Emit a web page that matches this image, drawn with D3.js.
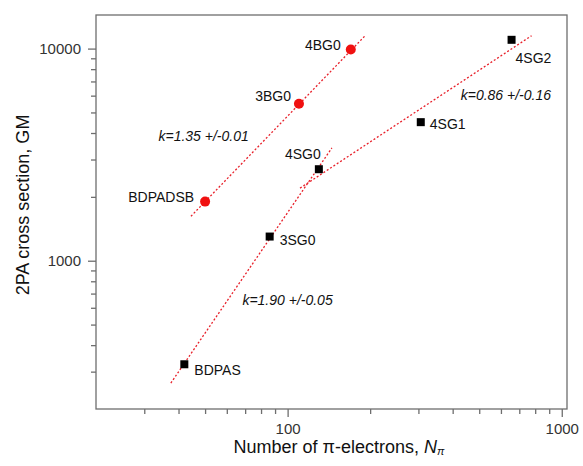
<!DOCTYPE html>
<html><head><meta charset="utf-8">
<script src="https://cdn.jsdelivr.net/npm/d3@7"></script>
<style>
body{margin:0;background:#fff;}
svg{display:block;font-family:"Liberation Sans",Arial,sans-serif;}
</style></head>
<body><svg id="c" width="583" height="466"></svg>
<script>
// Data
const bgNames = ["BDPADSB","3BG0","4BG0"];
const bgN     = [50, 110, 170];
const bgGM    = [1900, 5500, 9900];

const sgNames = ["BDPAS","3SG0","4SG0","4SG1","4SG2"];
const sgN     = [42, 86, 130, 306, 656];
const sgGM    = [325, 1300, 2700, 4500, 11000];

// fitted lines (endpoints)
const fitBG  = [[44.4, 1620], [193, 11600]];
const fitSG  = [[37.5, 265], [145, 3400]];
const fitSG2 = [[111, 2200], [776, 11500]];

const kTexts = ["k=1.35 +/-0.01", "k=0.86 +/-0.16", "k=1.90 +/-0.05"];
const kPos   = [[33.8, 3880], [428, 6040], [68.4, 653]];

const xTicksMajor = [100, 1000];
const xTicksMinor = [30,40,50,60,70,80,90,200,300,400,500,600,700,800,900];
const yTicksMajor = [1000, 10000];
const yTicksMinor = [300,400,500,600,700,800,900,2000,3000,4000,5000,6000,7000,8000,9000];

// Layout / style
const L = 96, R = 567, T = 15, B = 409;
const labelStyle = {
  "4BG0":   {dx:-10, dy:-5, a:"end"},
  "3BG0":   {dx:-8,  dy:-8, a:"end"},
  "BDPADSB":{dx:-11, dy:-5, a:"end"},
  "4SG0":   {dx:-16, dy:-15, a:"middle"},
  "3SG0":   {dx:10,  dy:3, a:"start"},
  "BDPAS":  {dx:10,  dy:6, a:"start"},
  "4SG1":   {dx:9,   dy:2, a:"start"},
  "4SG2":   {dx:4,   dy:18, a:"start"}
};

const svg = d3.select("#c");
const x = d3.scaleLog().domain([20, 1045]).range([L, R]);
const y = d3.scaleLog().domain([200, 14400]).range([B, T]);

const axisColor = "#6e6e6e";

// frame
svg.append("rect").attr("x", L).attr("y", T).attr("width", R-L).attr("height", B-T)
  .attr("fill","none").attr("stroke", axisColor).attr("stroke-width", 1.3);

// x axis
const gx = svg.append("g").attr("transform", `translate(0,${B})`);
gx.call(d3.axisBottom(x).tickValues(xTicksMajor).tickFormat(d3.format("d")).tickSize(8).tickPadding(6));
gx.append("g").call(d3.axisBottom(x).tickValues(xTicksMinor).tickFormat("").tickSize(5));
gx.selectAll(".domain").remove();
gx.selectAll("line").attr("stroke", axisColor).attr("stroke-width", 1.3);
gx.selectAll("text").attr("font-size", 15).attr("fill", "#333").attr("font-family","Liberation Sans, Arial, sans-serif");

// y axis
const gy = svg.append("g").attr("transform", `translate(${L},0)`);
gy.call(d3.axisLeft(y).tickValues(yTicksMajor).tickFormat(d3.format("d")).tickSize(8).tickPadding(7));
gy.append("g").call(d3.axisLeft(y).tickValues(yTicksMinor).tickFormat("").tickSize(5));
gy.selectAll(".domain").remove();
gy.selectAll("line").attr("stroke", axisColor).attr("stroke-width", 1.3);
gy.selectAll("text").attr("font-size", 15).attr("fill", "#333").attr("font-family","Liberation Sans, Arial, sans-serif");

// fit lines
const line = d3.line().x(d => x(d[0])).y(d => y(d[1]));
[fitBG, fitSG, fitSG2].forEach(f => {
  svg.append("path").attr("d", line(f)).attr("fill","none")
    .attr("stroke","#e8202a").attr("stroke-width",1.3).attr("stroke-dasharray","2,2");
});

// points
const bg = bgNames.map((n,i)=>({name:n, N:bgN[i], GM:bgGM[i]}));
const sg = sgNames.map((n,i)=>({name:n, N:sgN[i], GM:sgGM[i]}));

svg.selectAll(".bg").data(bg).enter().append("circle")
  .attr("cx", d=>x(d.N)).attr("cy", d=>y(d.GM)).attr("r", 5).attr("fill","#f01010");
svg.selectAll(".sg").data(sg).enter().append("rect")
  .attr("x", d=>x(d.N)-4).attr("y", d=>y(d.GM)-4).attr("width",8).attr("height",8).attr("fill","#000");

// point labels
svg.selectAll(".lbl").data(bg.concat(sg)).enter().append("text")
  .attr("x", d=>x(d.N)+labelStyle[d.name].dx)
  .attr("y", d=>y(d.GM)+labelStyle[d.name].dy)
  .attr("text-anchor", d=>labelStyle[d.name].a)
  .attr("dominant-baseline","central")
  .attr("font-size",14).attr("fill","#111").text(d=>d.name);

// k annotations
svg.selectAll(".k").data(kTexts).enter().append("text")
  .attr("x",(d,i)=>x(kPos[i][0])).attr("y",(d,i)=>y(kPos[i][1]))
  .attr("dominant-baseline","central")
  .attr("font-size",14).attr("font-style","italic").attr("fill","#111").text(d=>d);

// axis titles
const xt = svg.append("text").attr("x", (233+445)/2).attr("y", 447)
  .attr("text-anchor","middle").attr("dominant-baseline","central")
  .attr("font-size",18).attr("fill","#111");
xt.append("tspan").text("Number of \u03C0-electrons, ");
xt.append("tspan").attr("font-style","italic").text("N");
xt.append("tspan").attr("font-style","italic").attr("font-size",11).attr("dy",4).text("\u03C0");

svg.append("text").attr("transform", `translate(23,205) rotate(-90)`)
  .attr("text-anchor","middle").attr("dominant-baseline","central")
  .attr("font-size",18).attr("fill","#111").text("2PA cross section, GM");
</script></body></html>
